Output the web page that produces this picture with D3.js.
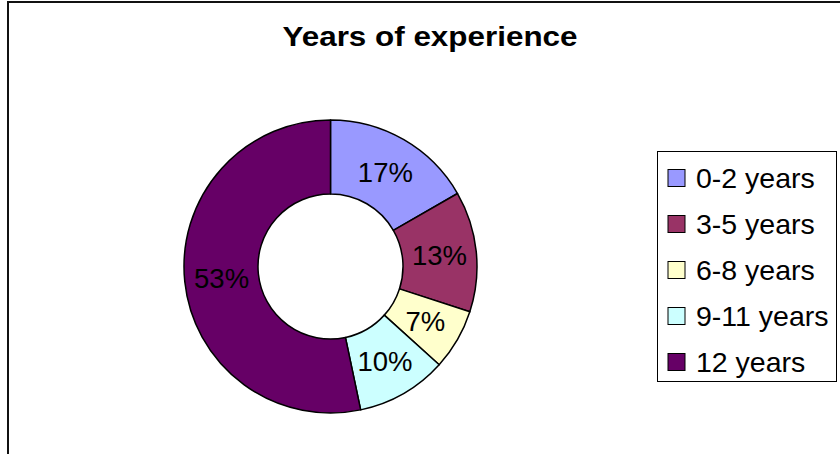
<!DOCTYPE html>
<html>
<head>
<meta charset="utf-8">
<script src="https://cdn.jsdelivr.net/npm/d3@7"></script>
<style>
  html, body { margin: 0; padding: 0; background: #fff; }
  svg { display: block; }
  text { font-family: "Liberation Sans", Arial, sans-serif; }
</style>
</head>
<body>
<script>
// Data
const categories = ["0-2 years", "3-5 years", "6-8 years", "9-11 years", "12 years"];
const values = [16.7, 13.3, 6.7, 10.0, 53.3];
const labels = ["17%", "13%", "7%", "10%", "53%"];
const colors = ["#9999FF", "#993366", "#FFFFCC", "#CCFFFF", "#660066"];
const title = "Years of experience";

const W = 840, H = 454;
const svg = d3.select("body").append("svg").attr("width", W).attr("height", H);

// outer frame
svg.append("rect")
  .attr("x", 8).attr("y", 2).attr("width", 900).attr("height", 600)
  .attr("fill", "#fff").attr("stroke", "#111").attr("stroke-width", 2);

// title
svg.append("text")
  .attr("x", 430).attr("y", 46)
  .attr("text-anchor", "middle")
  .attr("font-size", 28.5).attr("font-weight", "bold")
  .attr("textLength", 295).attr("lengthAdjust", "spacingAndGlyphs")
  .text(title);

// donut
const cx = 330.5, cy = 266.5, rOuter = 146.5, rInner = 72.5;
const pie = d3.pie().sort(null).value(d => d);
const arcs = pie(values);
const arc = d3.arc().innerRadius(rInner).outerRadius(rOuter);
const labelArc = d3.arc().innerRadius((rInner + rOuter) / 2).outerRadius((rInner + rOuter) / 2);

const g = svg.append("g").attr("transform", `translate(${cx},${cy})`);
g.selectAll("path.slice").data(arcs).enter().append("path")
  .attr("class", "slice")
  .attr("d", arc)
  .attr("fill", (d, i) => colors[i])
  .attr("stroke", "#000").attr("stroke-width", 1.5)
  .attr("stroke-linejoin", "round");

g.selectAll("text.lbl").data(arcs).enter().append("text")
  .attr("class", "lbl")
  .attr("transform", d => { const c = labelArc.centroid(d); return `translate(${c[0]},${c[1]})`; })
  .attr("text-anchor", "middle")
  .attr("dy", "0.36em")
  .attr("font-size", 27.5)
  .attr("fill", "#000")
  .text((d, i) => labels[i]);

// legend
const lg = svg.append("g");
lg.append("rect")
  .attr("x", 657.5).attr("y", 151.5).attr("width", 179).attr("height", 230)
  .attr("fill", "#fff").attr("stroke", "#000").attr("stroke-width", 1);

const rowY = d3.scalePoint().domain(categories).range([178, 362]);
const items = lg.selectAll("g.item").data(categories).enter().append("g").attr("class", "item");
items.append("rect")
  .attr("x", 668).attr("y", d => rowY(d) - 8.5)
  .attr("width", 17).attr("height", 17)
  .attr("fill", (d, i) => colors[i])
  .attr("stroke", "#000").attr("stroke-width", 1);
items.append("text")
  .attr("x", 696).attr("y", d => rowY(d))
  .attr("dy", "0.36em")
  .attr("font-size", 28.5)
  .text(d => d);
</script>
</body>
</html>
